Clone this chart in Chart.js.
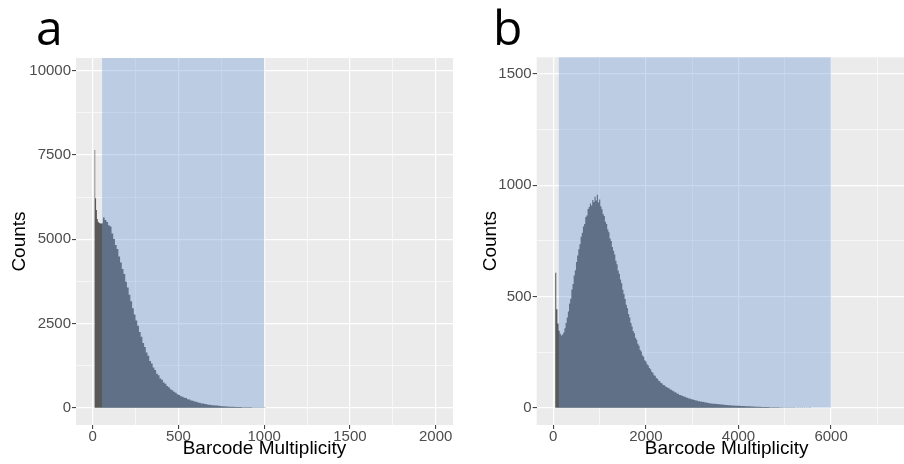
<!DOCTYPE html>
<html>
<head>
<meta charset="utf-8">
<script src="https://cdn.jsdelivr.net/npm/chart.js@4.4.1/dist/chart.umd.min.js"></script>
<style>
  html, body { margin: 0; padding: 0; background: #fff; }
  body { width: 904px; height: 464px; overflow: hidden; position: relative; }
  .panel { position: absolute; top: 0; width: 460px; height: 464px; }
  #wrapA { left: 0; }
  #wrapB { left: 460px; }
  .tag { position: absolute; top: 3px; font-family: 'Open Sans', sans-serif; font-size: 48px; line-height: 48px; color: #000; }
</style>
</head>
<body>
<div class="panel" id="wrapA"><canvas id="chartA" width="460" height="464"></canvas></div>
<div class="panel" id="wrapB"><canvas id="chartB" width="460" height="464"></canvas></div>
<div class="tag" style="left:36px">a</div>
<div class="tag" style="left:493px">b</div>

<script>
// Painel a: contagens por multiplicidade (bins de 5 ate 60, depois de 10)
const aLowStart = 10;
const aLowWidth = 5;
const aLowCounts = [7650, 6220, 5870, 5600, 5520, 5490, 5480, 5470, 5470, 5480];
const aStart = 60;
const aWidth = 10;
const aCounts = [
  5650, 5570, 5510, 5420, 5380, 5170, 5010, 4830, 4710, 4490,
  4310, 4120, 3970, 3740, 3570, 3350, 3160, 2950, 2770, 2590,
  2430, 2250, 2110, 1920, 1800, 1640, 1540, 1390, 1310, 1190,
  1120, 1010, 960, 870, 830, 750, 710, 645, 605, 545,
  515, 470, 445, 400, 380, 340, 325, 295, 285, 250,
  240, 214, 204, 182, 173, 152, 143, 128, 122, 108,
  102, 90, 87, 76, 74, 64, 62, 54, 52, 45,
  43, 37, 36, 31, 31, 27, 27, 23, 23, 19,
  19, 15, 16, 12, 13, 10, 11, 8, 9, 6,
  7, 4, 5, 3, 3
];
const aShade = [55, 1000];
const aXMajor = [0, 500, 1000, 1500, 2000];
const aXMinor = [250, 750, 1250, 1750];
const aYMajor = [0, 2500, 5000, 7500, 10000];
const aYMinor = [1250, 3750, 6250, 8750];

// Painel b: bins de 25
const bStart = 40;
const bWidth = 25;
const bCounts = [
  607, 442, 378, 346, 332, 324, 329, 338, 357, 381,
  405, 432, 468, 490, 531, 556, 594, 618, 655, 684,
  712, 735, 768, 786, 814, 826, 857, 864, 893, 902,
  918, 909, 934, 925, 948, 931, 957, 922, 936, 905,
  892, 871, 862, 836, 826, 801, 788, 760, 749, 722,
  705, 688, 660, 645, 617, 602, 576, 559, 530, 511,
  488, 463, 447, 421, 405, 380, 365, 345, 334, 314,
  305, 287, 278, 259, 252, 235, 229, 213, 208, 195,
  189, 178, 173, 161, 157, 146, 143, 133, 130, 121,
  119, 111, 109, 102, 101, 95, 93, 88, 87, 82,
  81, 76, 74, 69, 68, 63, 62, 57, 57, 53,
  52, 49, 49, 45, 45, 41, 41, 38, 38, 35,
  34, 32, 32, 29, 30, 27, 28, 25, 26, 23,
  23, 22, 21, 20, 19, 19, 18, 17, 17, 16,
  16, 15, 15, 14, 14, 13, 13, 12, 12, 11,
  11, 11, 10, 10, 10, 9, 9, 8, 8, 8,
  7, 7, 7, 7, 6, 6, 6, 6, 6, 5,
  5, 5, 5, 4, 4, 4, 4, 4, 3, 3,
  3, 3, 3, 3, 3, 2, 2, 2, 2, 2,
  2, 2, 2, 2, 1, 2, 1, 1, 1, 1,
  1, 1, 1, 1, 1, 1, 1, 1, 0, 1,
  1, 0, 1, 1, 0, 1, 0, 1, 0, 1,
  1
];
const bShade = [120, 6000];
const bXMajor = [0, 2000, 4000, 6000];
const bXMinor = [1000, 3000, 5000, 7000];
const bYMajor = [0, 500, 1000, 1500];
const bYMinor = [250, 750, 1250];

const FONT = "'Liberation Sans', Arial, sans-serif";

// Monta os pontos do histograma (degraus) a partir dos bins
function histPoints(segments) {
  const pts = [];
  let end = 0;
  segments.forEach(seg => {
    seg.counts.forEach((c, i) => {
      pts.push({ x: seg.start + i * seg.width, y: c });
    });
    end = seg.start + seg.counts.length * seg.width;
  });
  pts.push({ x: end, y: 0 });
  return pts;
}

// Fundo cinza do painel
const panelBg = {
  id: 'panelBg',
  beforeDraw(chart) {
    const { ctx, chartArea } = chart;
    ctx.save();
    ctx.fillStyle = '#ebebeb';
    ctx.fillRect(chartArea.left, chartArea.top, chartArea.right - chartArea.left, chartArea.bottom - chartArea.top);
    ctx.restore();
  }
};

// Faixa azul sobre o histograma
const shadeRect = {
  id: 'shade',
  afterDatasetsDraw(chart, args, opts) {
    const { ctx, chartArea, scales } = chart;
    const x0 = scales.x.getPixelForValue(opts.range[0]);
    const x1 = scales.x.getPixelForValue(opts.range[1]);
    const y0 = scales.y.getPixelForValue(0);
    ctx.save();
    ctx.fillStyle = 'rgba(108,155,214,0.37)';
    ctx.fillRect(x0, chartArea.top, x1 - x0, y0 - chartArea.top);
    ctx.restore();
  }
};

function axisOptions(min, max, major, minor, title, titlePad, labelPad, afterFit) {
  const all = major.concat(minor).sort((p, q) => p - q);
  return {
    type: 'linear',
    min: min,
    max: max,
    afterBuildTicks: s => { s.ticks = all.map(v => ({ value: v })); },
    afterFit: afterFit,
    border: { display: false },
    grid: {
      color: '#ffffff',
      lineWidth: c => major.includes(c.tick.value) ? 1.2 : 0.6,
      tickColor: c => major.includes(c.tick.value) ? '#333333' : 'rgba(0,0,0,0)',
      tickLength: 4,
      tickWidth: 1
    },
    ticks: {
      autoSkip: false,
      maxRotation: 0,
      padding: labelPad,
      color: '#4d4d4d',
      font: { family: FONT, size: 15 },
      callback: v => major.includes(v) ? String(v) : ''
    },
    title: {
      display: true,
      text: title,
      color: '#000000',
      font: { family: FONT, size: 19 },
      padding: titlePad
    }
  };
}

function makePanel(id, cfg) {
  return new Chart(document.getElementById(id), {
    type: 'line',
    data: {
      datasets: [{
        data: cfg.points,
        stepped: 'before',
        fill: 'origin',
        backgroundColor: '#595959',
        borderColor: 'rgba(0,0,0,0)',
        borderWidth: 0,
        pointRadius: 0
      }]
    },
    options: {
      responsive: false,
      animation: false,
      layout: { padding: cfg.padding },
      plugins: {
        legend: { display: false },
        tooltip: { enabled: false },
        shade: { range: cfg.shade }
      },
      scales: {
        x: axisOptions(cfg.xMin, cfg.xMax, cfg.xMajor, cfg.xMinor, 'Barcode Multiplicity',
          { top: 0, bottom: 4 }, -1, s => { s.height = 39; }),
        y: axisOptions(cfg.yMin, cfg.yMax, cfg.yMajor, cfg.yMinor, 'Counts',
          { top: cfg.yTitlePad, bottom: 0 }, 1, s => { s.width = cfg.yWidth; })
      }
    },
    plugins: [panelBg, shadeRect]
  });
}

makePanel('chartA', {
  points: histPoints([
    { start: aLowStart, width: aLowWidth, counts: aLowCounts },
    { start: aStart, width: aWidth, counts: aCounts }
  ]),
  shade: aShade,
  padding: { top: 58, right: 7, left: 0, bottom: 0 },
  xMin: -97, xMax: 2101, xMajor: aXMajor, xMinor: aXMinor,
  yMin: -514, yMax: 10383, yMajor: aYMajor, yMinor: aYMinor,
  yWidth: 76, yTitlePad: 8.5
});

makePanel('chartB', {
  points: histPoints([{ start: bStart, width: bWidth, counts: bCounts }]),
  shade: bShade,
  padding: { top: 57.3, right: 3.3, left: 0, bottom: 0 },
  xMin: -358, xMax: 7849, xMajor: bXMajor, xMinor: bXMinor,
  yMin: -78, yMax: 1575, yMajor: bYMajor, yMinor: bYMinor,
  yWidth: 76.7, yTitlePad: 19
});
</script>
</body>
</html>
